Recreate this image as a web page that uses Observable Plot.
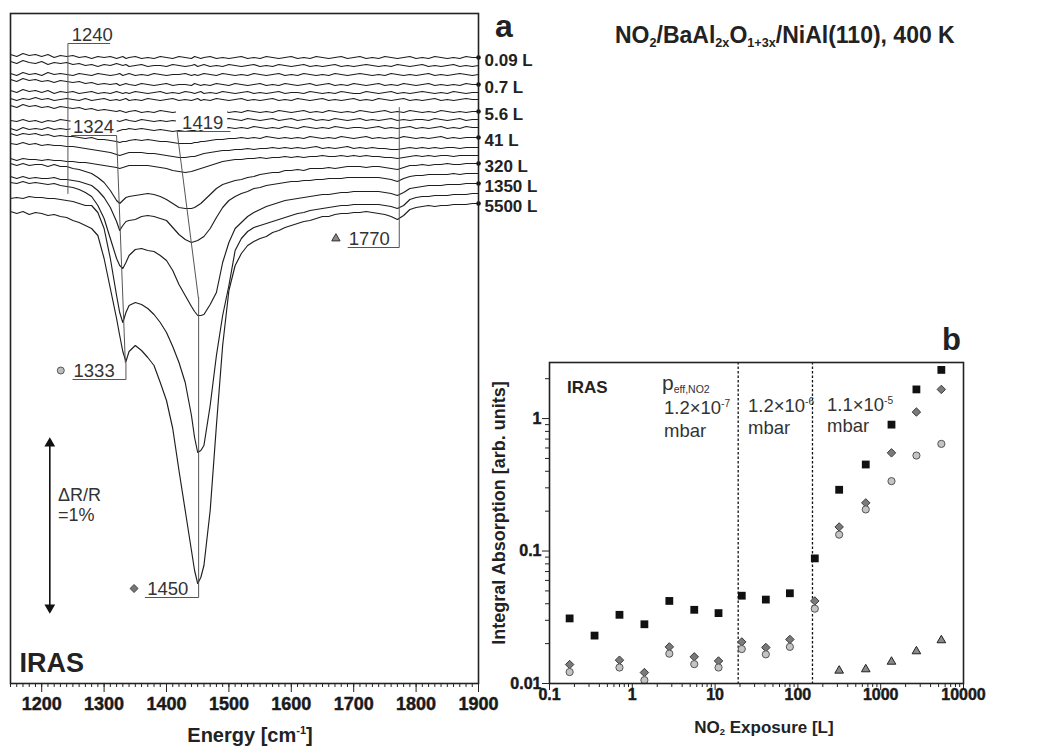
<!DOCTYPE html>
<html><head><meta charset="utf-8">
<script src="https://cdn.jsdelivr.net/npm/d3@7"></script>
<script src="https://cdn.jsdelivr.net/npm/@observablehq/plot@0.6"></script>
<style>
body{margin:0;background:#fff;}
#root{position:relative;width:1049px;height:748px;overflow:hidden;background:#fff;font-family:"Liberation Sans",Arial,Helvetica,sans-serif;color:#222;}
.abs{position:absolute;white-space:nowrap;line-height:1;}
.abs sub,.abs sup{font-size:0.55em;line-height:0;position:relative;vertical-align:baseline;}
.abs sub{top:0.3em;}
.abs sup{top:-0.75em;}
svg{overflow:visible;}
</style></head><body><div id="root"></div>
<script>
// ---------- Panel a: IRAS spectra (absorption in a.u.; 176 a.u. = 1 % dR/R) ----------
const energy = [1150,1160,1170,1180,1190,1200,1210,1220,1230,1240,
  1250,1260,1270,1280,1290,1300,1310,1320,1325,1330,
  1335,1340,1350,1360,1370,1380,1390,1400,1410,1420,
  1430,1440,1445,1450,1455,1460,1470,1480,1490,1500,
  1510,1520,1530,1540,1550,1560,1570,1580,1590,1600,
  1610,1620,1630,1640,1650,1660,1670,1680,1690,1700,
  1710,1720,1730,1740,1750,1760,1770,1780,1790,1800,
  1810,1820,1830,1840,1850,1860,1870,1880,1890,1900];
const energyTicks = [1200,1300,1400,1500,1600,1700,1800,1900];
const traceExposure = ["0.09","0.18","0.35","0.7","1.4","2.8","5.6","11","20","41","80","155","320","650","1350","2700","5500"];
const labelledExposure = ["0.09","0.7","5.6","41","320","1350","5500"];
const traceOffset = [0,-8,-17,-27,-35,-42,-54,-62,-70,-80,-90,-98,-106,-116,-126,-136,-146];

const s009 = [-3,-1,-4,-2,-3,-1,-3,0,-2,-1, -2,0,-1,1,-1,0,-1,1,0,-1, 1,0,-1,1,0,1,-1,0,1,-1, 0,1,-1,0,1,0,-1,1,0,1,
  0,-1,1,0,1,-1,0,1,0,-1, 1,0,1,-1,0,1,0,-1,1,0, -1,1,0,1,-1,0,1,0,-1,1, 0,1,-1,0,1,0,1,-1,0,0];
const s018 = [-4,-2,-5,-3,-2,-4,-1,-3,-2,-3, -1,-2,0,-1,1,-1,0,-2,-1,0, -1,1,0,-1,1,0,0,1,-1,0, 1,0,-1,1,0,-1,1,0,1,-1,
  0,1,0,-1,1,0,1,-1,0,1, 0,-1,1,0,1,0,-1,1,0,1, 0,-1,0,1,0,1,-1,0,1,0, -1,1,0,1,0,-1,1,0,1,0];
const s035 = [-1,1,-2,0,-1,1,-2,0,-1,0, 1,-1,0,1,-1,0,1,0,-1,1, 0,-1,1,0,1,-1,0,1,0,0, -1,1,0,1,0,-1,0,1,-1,0,
  1,0,1,-1,0,1,0,-1,1,0, 1,-1,0,1,0,1,-1,0,1,0, -1,0,1,0,1,-1,0,1,0,1, 0,-1,1,0,1,0,-1,0,1,0];
const s07 = [-5,-3,-6,-4,-5,-3,-4,-2,-4,-3, -2,-3,-1,-2,0,-1,0,-1,1,0, -1,0,1,-1,0,1,0,-1,1,0, 0,1,-1,0,1,0,1,-1,0,1,
  -1,0,1,0,-1,1,0,1,-1,0, 1,0,-1,1,0,-1,1,0,1,-1, 0,1,0,-1,1,0,1,-1,0,1, 0,-1,1,0,1,0,1,-1,0,0];
const s14 = [-2,0,-3,-1,-2,0,-2,1,-1,0, -1,1,0,-1,1,0,1,-1,0,1, 0,1,-1,0,1,0,-1,1,0,1, -1,0,1,0,-1,1,0,1,-1,0,
  1,0,-1,1,0,1,0,-1,1,0, 0,1,-1,0,1,0,1,-1,0,1, 1,-1,0,1,0,-1,1,0,1,0, -1,0,1,0,1,-1,0,1,0,0];
const s28 = [-1,1,-1,0,-2,0,-1,1,0,-1, 0,1,-1,1,0,-1,1,0,1,0, -1,1,0,1,-1,0,1,0,-1,1, 0,1,0,-1,1,0,1,-1,0,1,
  0,-1,1,0,1,0,-1,1,0,1, -1,0,1,0,-1,1,0,1,0,-1, 1,0,1,-1,0,1,0,-1,1,0, 1,0,-1,1,0,1,0,-1,0,0];
const s56 = [-6,-4,-7,-5,-6,-4,-5,-3,-5,-4, -3,-4,-2,-3,-1,-2,-1,0,-1,0, 1,0,-1,1,0,1,-1,0,1,0, -1,1,0,1,0,-1,1,0,-1,1,
  0,1,-1,0,1,0,1,-1,0,1, 0,-1,1,0,1,-1,0,1,0,1, -1,0,1,0,-1,1,0,1,-1,0, 1,0,1,-1,0,1,0,1,0,0];
const s11 = [1,2,0,2,1,3,1,2,0,1, 2,0,1,2,1,0,2,1,2,1, 0,1,2,0,1,2,1,2,1,2, 1,0,1,2,0,1,0,1,0,-1,
  0,1,-1,0,1,0,-1,1,0,-1, 1,0,-1,1,0,1,-1,0,1,0, -1,1,0,1,0,-1,1,0,1,0, 0,1,-1,0,1,0,-1,1,0,0];
const s20 = [1,3,0,2,1,2,0,2,1,2, 1,2,1,3,2,2,3,4,3,2, 2,1,2,1,2,3,2,3,4,3, 4,3,3,2,3,2,1,2,1,0,
  1,0,1,-1,0,1,0,1,-1,0, 1,-1,0,1,0,1,-1,0,1,0, 0,1,0,-1,1,0,1,0,-1,1, 0,1,0,-1,1,0,1,-1,0,0];
const s41 = [-4,-2,-4,-3,-4,-2,-3,-1,-2,-1, -1,0,1,0,2,2,3,4,5,4, 4,3,2,3,2,3,4,4,5,6, 6,6,5,5,4,4,3,2,2,1,
  1,0,1,0,1,-1,0,1,0,1, 0,1,-1,0,1,0,1,-1,0,1, 0,-1,1,0,1,0,1,-1,0,1, 0,1,0,-1,1,0,1,0,0,0];
const s80 = [-4,-3,-5,-3,-4,-2,-3,-2,-2,-1, -1,0,1,2,3,4,5,7,8,7, 6,5,5,5,6,6,7,8,9,10, 10,9,9,8,7,6,5,4,3,3,
  2,2,1,2,1,1,0,1,0,1, 0,1,0,-1,1,0,1,0,-1,1, 0,1,0,1,1,2,2,1,0,1, 0,1,0,1,0,0,1,0,0,0];
const s155 = [3,5,3,4,4,5,4,5,5,6, 6,7,7,8,9,10,11,12,13,12, 11,10,10,10,10,11,12,13,15,16, 17,16,15,14,13,12,10,8,6,5,
  4,4,3,3,2,3,2,2,1,2, 1,2,1,1,0,1,1,0,1,0, 1,0,1,1,2,2,3,2,1,0, 1,0,1,0,0,1,0,0,0,0];
const s320 = [0,2,0,2,1,1,3,1,3,3, 5,6,8,10,14,19,27,37,40,37, 34,33,32,31,30,31,33,36,40,44, 45,45,44,42,40,37,31,25,21,19,
  17,16,14,13,11,10,9,9,7,7, 6,7,5,5,5,4,5,4,3,3, 3,4,3,3,4,5,6,4,2,2, 1,2,1,1,0,1,1,0,0,0];
const s650 = [3,5,3,5,4,5,5,4,6,6, 7,8,10,12,17,24,34,48,57,52, 48,47,46,43,42,43,45,47,54,61, 66,69,68,67,65,63,55,44,34,27,
  23,20,18,15,14,12,11,10,9,8, 8,7,7,6,6,5,5,5,4,4, 4,4,4,4,5,6,8,5,3,2, 2,1,1,1,1,0,1,0,0,0];
const s1350 = [-1,0,-2,0,-1,0,1,0,2,3, 4,6,9,13,22,35,55,75,82,85, 79,72,66,65,67,68,72,77,87,101, 112,123,128,132,132,131,121,109,79,59,
  45,39,33,29,26,23,21,19,17,16, 15,14,13,12,11,11,10,9,9,8, 8,8,8,8,9,10,12,9,5,4, 3,2,2,2,1,1,1,0,0,0];
const s2700 = [5,4,5,3,4,4,5,5,6,7, 8,10,12,12,19,35,65,102,119,129, 119,112,109,111,115,121,129,139,153,169, 189,222,244,259,257,252,212,162,122,92,
  57,45,38,34,32,30,28,26,24,22, 20,19,17,16,15,14,13,12,12,11, 11,11,11,11,12,13,15,12,6,4, 3,3,2,2,2,1,1,1,0,0];
const s5500 = [8,10,8,11,9,10,12,11,13,14, 17,19,22,25,32,55,85,115,132,148, 158,148,142,147,154,162,179,197,225,267, 307,347,367,380,374,362,307,222,142,87,
  62,50,42,38,35,33,29,27,24,22, 20,18,17,15,13,13,11,10,10,9, 9,8,9,10,11,13,16,12,6,4, 3,2,3,2,2,1,1,1,0,0];
const spectra = [s009,s018,s035,s07,s14,s28,s56,s11,s20,s41,s80,s155,s320,s650,s1350,s2700,s5500];

// peak annotations (energy in cm-1, vertical position in the same a.u. as the spectra)
const peakLabels = ["1240","1324","1333","1419","1450","1770"];
const peakLabelE = [1248,1250,1251,1425,1369,1692];
const peakLabelY = [14,-78,-322,-74,-540,-190];
const peakLeaders = [
  [[1309,14],[1242,14],[1242,-136]],
  [[1248,-78],[1320,-78],[1334,-305]],
  [[1250,-322],[1335,-322],[1335,-305]],
  [[1502,-74],[1417,-74],[1451,-240]],
  [[1366,-540],[1451.5,-540],[1451.5,-240]],
  [[1691,-190],[1773,-190],[1773,-50]]
];
const scaleBar = {e: 1213, top: -386, bottom: -550}; // 176 a.u. = dR/R 1 %

// ---------- Panel b: integral absorption vs exposure ----------
const exposureB = [0.175,0.35,0.7,1.4,2.8,5.6,11,21,41,80,160,315,660,1350,2700,5400];
const integralTotal = [0.031,0.023,0.033,0.028,0.042,0.036,0.034,0.046,0.043,0.048,0.088,0.29,0.45,0.90,1.66,2.33];
const band1450 = [0.0139,null,0.015,0.0121,0.0189,0.0159,0.0148,0.0206,0.0187,0.0215,0.042,0.152,0.231,0.551,1.12,1.66];
const band1333 = [0.0122,null,0.0132,0.0106,0.0168,0.014,0.0132,0.0182,0.0166,0.0189,0.0367,0.133,0.206,0.337,0.526,0.644];
const band1770 = [null,null,null,null,null,null,null,null,null,null,null,0.0125,0.0128,0.0146,0.0175,0.0212];
const pressureBoundaries = [19,150];
const exposureTicks = [0.1,1,10,100,1000,10000];
const absTicks = [0.01,0.1,1];

// ---------- build ----------
const root = document.getElementById("root");
const FONT = '"Liberation Sans",Arial,Helvetica,sans-serif';

const rows = [];
spectra.forEach((arr, k) => arr.forEach((d, j) => rows.push({e: energy[j], y: traceOffset[k] - d, k})));
const labelRows = traceExposure.map((t, k) => ({t, y: traceOffset[k]})).filter(d => labelledExposure.includes(d.t)).map(d => ({...d, label: d.t + " L"}));
const leaderRows = [];
peakLeaders.forEach((pts, k) => pts.forEach(([e, y]) => leaderRows.push({e, y, k})));
const peakRows = peakLabels.map((t, i) => ({t, e: peakLabelE[i], y: peakLabelY[i]}));
const eTickRows = energyTicks.map(v => ({v, t: String(v)}));
const xTickRows = exposureTicks.map(v => ({v, t: String(v)}));
const yTickRows = absTicks.map(v => ({v, t: String(v)}));
const tickText = {fontWeight: "bold", fill: "#1a1a1a", stroke: "#1a1a1a", strokeWidth: 0.45};

const minorE = d3.range(1150, 1901, 10);

const plotA = Plot.plot({
  width: 545, height: 748,
  marginLeft: 10, marginRight: 67, marginTop: 13, marginBottom: 65,
  x: {domain: [1150, 1900]},
  y: {domain: [-626, 44], axis: null},
  style: {fontFamily: FONT, background: "transparent", overflow: "visible", color: "#222"},
  marks: [
    Plot.line(rows, {x: "e", y: "y", z: "k", stroke: "#1e1e1e", strokeWidth: 1.15}),
    Plot.rect([{x1: 1247, x2: 1321, y1: -58, y2: -77}, {x1: 1416, x2: 1498, y1: -48, y2: -73}], {x1: "x1", x2: "x2", y1: "y1", y2: "y2", fill: "white"}),
    Plot.line(leaderRows, {x: "e", y: "y", z: "k", stroke: "#555", strokeWidth: 1}),
    Plot.text(peakRows, {x: "e", y: "y", text: "t", textAnchor: "start", lineAnchor: "bottom", dy: -3, fontSize: 18.5, fill: "#333"}),
    Plot.dot([{e: 1230.6, y: -313}], {x: "e", y: "y", r: 3.5, fill: "#bdbdbd", stroke: "#555", strokeWidth: 1}),
    Plot.dot([{e: 1348, y: -531}], {x: "e", y: "y", r: 3.6, symbol: "diamond2", fill: "#777", stroke: "#444", strokeWidth: 1}),
    Plot.dot([{e: 1671.5, y: -181}], {x: "e", y: "y", r: 3.1, symbol: "triangle", fill: "#888", stroke: "#333", strokeWidth: 1}),
    Plot.ruleX([scaleBar], {x: "e", y1: "top", y2: "bottom", stroke: "#111", strokeWidth: 1.6}),
    Plot.dot([scaleBar], {x: "e", y: "top", r: 4, symbol: "triangle", fill: "#111"}),
    Plot.dot([scaleBar], {x: "e", y: "bottom", r: 4, symbol: "triangle", rotate: 180, fill: "#111"}),
    Plot.text([{e: 1226, y: -443, t: "\u0394R/R"}, {e: 1226, y: -463, t: "=1%"}], {x: "e", y: "y", text: "t", textAnchor: "start", lineAnchor: "bottom", fontSize: 18, fill: "#333"}),
    Plot.text([{e: 1164.6, y: -614, t: "IRAS"}], {x: "e", y: "y", text: "t", textAnchor: "start", lineAnchor: "bottom", fontSize: 27, fontWeight: "bold", fill: "#222"}),
    Plot.dot(labelRows, {x: () => 1900, y: "y", r: 2.3, fill: "#111"}),
    Plot.text(labelRows, {x: () => 1900, y: "y", text: "label", textAnchor: "start", dx: 6, dy: 3, fontSize: 17, fontWeight: "bold", fill: "#222"}),
    Plot.frame({stroke: "#222", strokeWidth: 1.6}),
    Plot.axisX({ticks: minorE, tickSize: 4, tickFormat: () => "", label: null, stroke: "#222"}),
    Plot.axisX({ticks: energyTicks, tickSize: 9, tickFormat: () => "", label: null, stroke: "#222"}),
    Plot.text(eTickRows, {x: "v", text: "t", frameAnchor: "bottom", dy: 26, fontSize: 18, ...tickText})
  ]
});
plotA.style.position = "absolute"; plotA.style.left = "0px"; plotA.style.top = "0px";
root.appendChild(plotA);

// panel b
const minorX = []; for (let p = -1; p < 4; p++) for (let m = 2; m < 10; m++) minorX.push(m * 10 ** p);
const minorY = []; for (let p = -2; p < 1; p++) for (let m = 2; m < 10; m++) { const v = m * 10 ** p; if (v <= 2.65) minorY.push(v); }
const toRows = arr => exposureB.map((x, i) => ({x, y: arr[i]})).filter(d => d.y != null);

const plotB = Plot.plot({
  width: 579, height: 448,
  marginLeft: 79, marginRight: 86, marginTop: 62, marginBottom: 65,
  x: {type: "log", domain: [0.1, 10000]},
  y: {type: "log", domain: [0.01, 2.65]},
  style: {fontFamily: FONT, background: "transparent", overflow: "visible", color: "#222"},
  marks: [
    Plot.ruleX(pressureBoundaries, {stroke: "#111", strokeWidth: 1.3, strokeDasharray: "2.5,2"}),
    Plot.dot(toRows(integralTotal), {x: "x", y: "y", symbol: "square", r: 4.4, fill: "#111"}),
    Plot.dot(toRows(band1450), {x: "x", y: "y", symbol: "diamond2", r: 3.8, fill: "#7a7a7a", stroke: "#3a3a3a", strokeWidth: 1}),
    Plot.dot(toRows(band1333), {x: "x", y: "y", symbol: "circle", r: 3.6, fill: "#c4c4c4", stroke: "#555", strokeWidth: 1}),
    Plot.dot(toRows(band1770), {x: "x", y: "y", symbol: "triangle", r: 3.2, fill: "#8a8a8a", stroke: "#222", strokeWidth: 1}),
    Plot.frame({stroke: "#222", strokeWidth: 1.6}),
    Plot.axisX({ticks: minorX, tickSize: 4, tickFormat: () => "", label: null, stroke: "#222"}),
    Plot.axisX({ticks: exposureTicks, tickSize: 7, tickFormat: () => "", label: null, stroke: "#222"}),
    Plot.axisY({ticks: minorY, tickSize: 4, tickFormat: () => "", label: null, stroke: "#222"}),
    Plot.axisY({ticks: absTicks, tickSize: 7, tickFormat: () => "", label: null, stroke: "#222"}),
    Plot.text(xTickRows, {x: "v", text: "t", frameAnchor: "bottom", dy: 16, fontSize: 16, ...tickText}),
    Plot.text(yTickRows, {y: "v", text: "t", frameAnchor: "left", dx: -8, textAnchor: "end", fontSize: 16, ...tickText})
  ]
});
plotB.style.position = "absolute"; plotB.style.left = "470px"; plotB.style.top = "300px";
root.appendChild(plotB);

// ---------- text overlays ----------
function txt(html, x, baseline, size, o = {}) {
  const d = document.createElement("div");
  d.className = "abs";
  d.innerHTML = html;
  d.style.left = x + "px";
  d.style.top = (baseline - 0.8465 * size) + "px";
  d.style.fontSize = size + "px";
  d.style.fontWeight = o.weight || "normal";
  d.style.color = o.color || "#222";
  if (o.anchor === "middle") d.style.transform = "translateX(-50%)";
  root.appendChild(d);
  return d;
}
txt("NO<sub>2</sub>/BaAl<sub>2x</sub>O<sub>1+3x</sub>/NiAl(110), 400 K", 615, 43.5, 23, {weight: "bold"});
txt("a", 495, 37, 32, {weight: "bold"});
txt("b", 942, 350, 31, {weight: "bold"});
txt("Energy [cm<sup>-1</sup>]", 250, 742, 20, {weight: "bold", anchor: "middle"});
txt("NO<sub>2</sub> Exposure [L]", 764, 733, 17, {weight: "bold", anchor: "middle"});
const yl = document.createElement("div");
yl.className = "abs";
yl.textContent = "Integral Absorption [arb. units]";
Object.assign(yl.style, {left: "499px", top: "513px", fontSize: "18px", fontWeight: "bold", color: "#222", transform: "translate(-50%,-50%) rotate(-90deg)"});
root.appendChild(yl);
txt("IRAS", 567, 393, 17, {weight: "bold"});
txt("p<sub style='font-size:0.5em'>eff,NO2</sub>", 662, 390, 21, {color: "#333"});
txt("1.2\u00d710<sup>-7</sup>", 664, 415, 18.5, {color: "#333"});
txt("mbar", 664, 438, 18.5, {color: "#333"});
txt("1.2\u00d710<sup>-6</sup>", 748, 413, 18.5, {color: "#333"});
txt("mbar", 748, 435, 18.5, {color: "#333"});
txt("1.1\u00d710<sup>-5</sup>", 827, 412, 18.5, {color: "#333"});
txt("mbar", 827, 433, 18.5, {color: "#333"});
</script></body></html>
